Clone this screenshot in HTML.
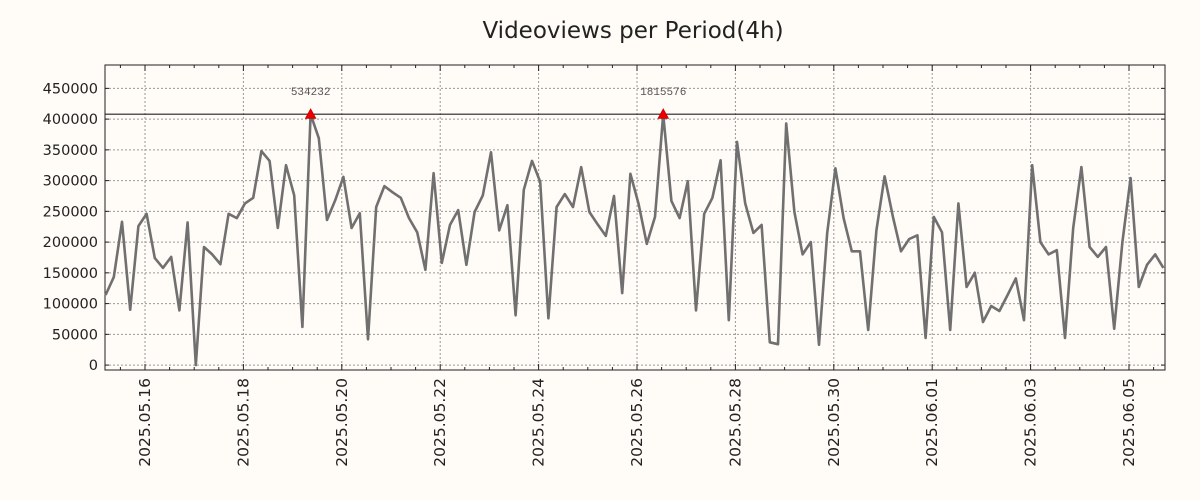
<!DOCTYPE html>
<html><head><meta charset="utf-8"><style>
html,body{margin:0;padding:0;background:#fffbf7;}
svg{display:block;font-family:"DejaVu Sans","Liberation Sans",sans-serif;}
</style></head><body>
<svg id="chart" width="1200" height="500" viewBox="0 0 1200 500">
<rect x="0" y="0" width="1200" height="500" fill="#fffbf7"/>
<text x="633" y="38" text-anchor="middle" font-size="23" fill="#222">Videoviews per Period(4h)</text>
<g id="grid"></g>
<g id="axes"></g>
<g id="series"></g>
</svg>
<script>
const values = [114000,143000,233000,90000,226000,246000,174000,158000,176000,89000,232000,0,192000,180000,164000,246000,239000,263000,272000,348000,332000,223000,325000,276000,62000,534232,369000,236000,268000,306000,223000,247000,42000,257000,291000,281000,272000,239000,216000,155000,312000,166000,228000,252000,163000,249000,276000,346000,219000,260000,81000,285000,332000,298000,76000,257000,278000,257000,322000,249000,229000,210000,275000,117000,311000,262000,197000,241000,1815576,267000,239000,299000,89000,246000,272000,333000,73000,363000,263000,215000,228000,37000,34000,393000,249000,180000,200000,33000,215000,320000,239000,185000,185000,57000,219000,307000,242000,185000,205000,211000,44000,241000,216000,57000,263000,127000,150000,70000,96000,88000,114000,141000,73000,325000,200000,180000,187000,44000,223000,322000,192000,176000,192000,59000,200000,304000,127000,163000,180000,158000];
const yTicks = [0,50000,100000,150000,200000,250000,300000,350000,400000,450000];
const xTickLabels = ["2025.05.16","2025.05.18","2025.05.20","2025.05.22","2025.05.24","2025.05.26","2025.05.28","2025.05.30","2025.06.01","2025.06.03","2025.06.05"];
const capValue = 408000;
const startDayOffset = -0.8; // first period relative to 2025.05.16
const periodDays = 4/24;

const L=105,R=1165,T=65,B=370;
const NS='http://www.w3.org/2000/svg';
const yMin=-8000,yMax=488000;
const dayPx=49.2, day0X=145;
function xDay(d){return day0X+d*dayPx;}
function xIdx(i){return xDay(startDayOffset+i*periodDays);}
function yVal(v){return B-(v-yMin)/(yMax-yMin)*(B-T);}
function mk(tag,attrs,parent){const e=document.createElementNS(NS,tag);for(const k in attrs)e.setAttribute(k,attrs[k]);parent.appendChild(e);return e;}
const grid=document.getElementById('grid'),axes=document.getElementById('axes'),series=document.getElementById('series');

yTicks.forEach((v,i)=>{
  const y=yVal(v);
  const g=mk('line',{x1:L,x2:R,y1:y,y2:y,stroke:'#999','stroke-dasharray':'2,2','stroke-width':1},grid);
  
  
  const t1=mk('line',{x1:L,x2:L+4,y1:y,y2:y,stroke:'#222'},axes);
  
  
  const t2=mk('line',{x1:R-4,x2:R,y1:y,y2:y,stroke:'#222'},axes);
  
  
  const lab=mk('text',{x:L-7,y:y+5,'text-anchor':'end','font-size':14.5,fill:'#222'},axes);
  lab.textContent=String(v);
  
  
});
xTickLabels.forEach((s,i)=>{
  const x=xDay(i*2);
  const g=mk('line',{x1:x,x2:x,y1:T,y2:B,stroke:'#999','stroke-dasharray':'2,2','stroke-width':1},grid);
  
  
  const lab=mk('text',{x:0,y:0,'text-anchor':'end','font-size':15.5,fill:'#222',transform:`translate(${x+5},${B+8}) rotate(-90)`},axes);
  lab.textContent=s;
  
  
});
for(let d=-0.5;d<21;d+=0.5){
  const x=xDay(d); if(x<L||x>R)continue;
  const len=(Math.abs(d%2)<1e-6)?6:3;
  const a=mk('line',{x1:x,x2:x,y1:B,y2:B-len,stroke:'#222'},axes);
  
  
  const b=mk('line',{x1:x,x2:x,y1:T,y2:T+len,stroke:'#222'},axes);
  
  
}
const frame=mk('rect',{x:L,y:T,width:R-L,height:B-T,fill:'none',stroke:'#222','stroke-width':1},axes);


const cap=mk('line',{x1:L,x2:R,y1:yVal(capValue),y2:yVal(capValue),stroke:'#222','stroke-width':1.2},axes);



const pts=values.map((v,i)=>xIdx(i).toFixed(1)+','+yVal(Math.min(v,capValue)).toFixed(1)).join(' ');
const line=mk('polyline',{points:pts,fill:'none',stroke:'#707070','stroke-width':2.6,'stroke-linejoin':'round'},series);


values.forEach((v,i)=>{
  if(v<=capValue)return;
  const x=xIdx(i),y=yVal(capValue);
  const m=mk('polygon',{points:`${x-5},${y+4} ${x+5},${y+4} ${x},${y-5}`,fill:'#e00',stroke:'#c00'},series);
  
  
  const t=mk('text',{x:x,y:y-19,'text-anchor':'middle','font-size':11,fill:'#555','font-family':'"Liberation Mono",monospace'},series);
  t.textContent=String(v);
  
  
});
</script>
</body></html>
